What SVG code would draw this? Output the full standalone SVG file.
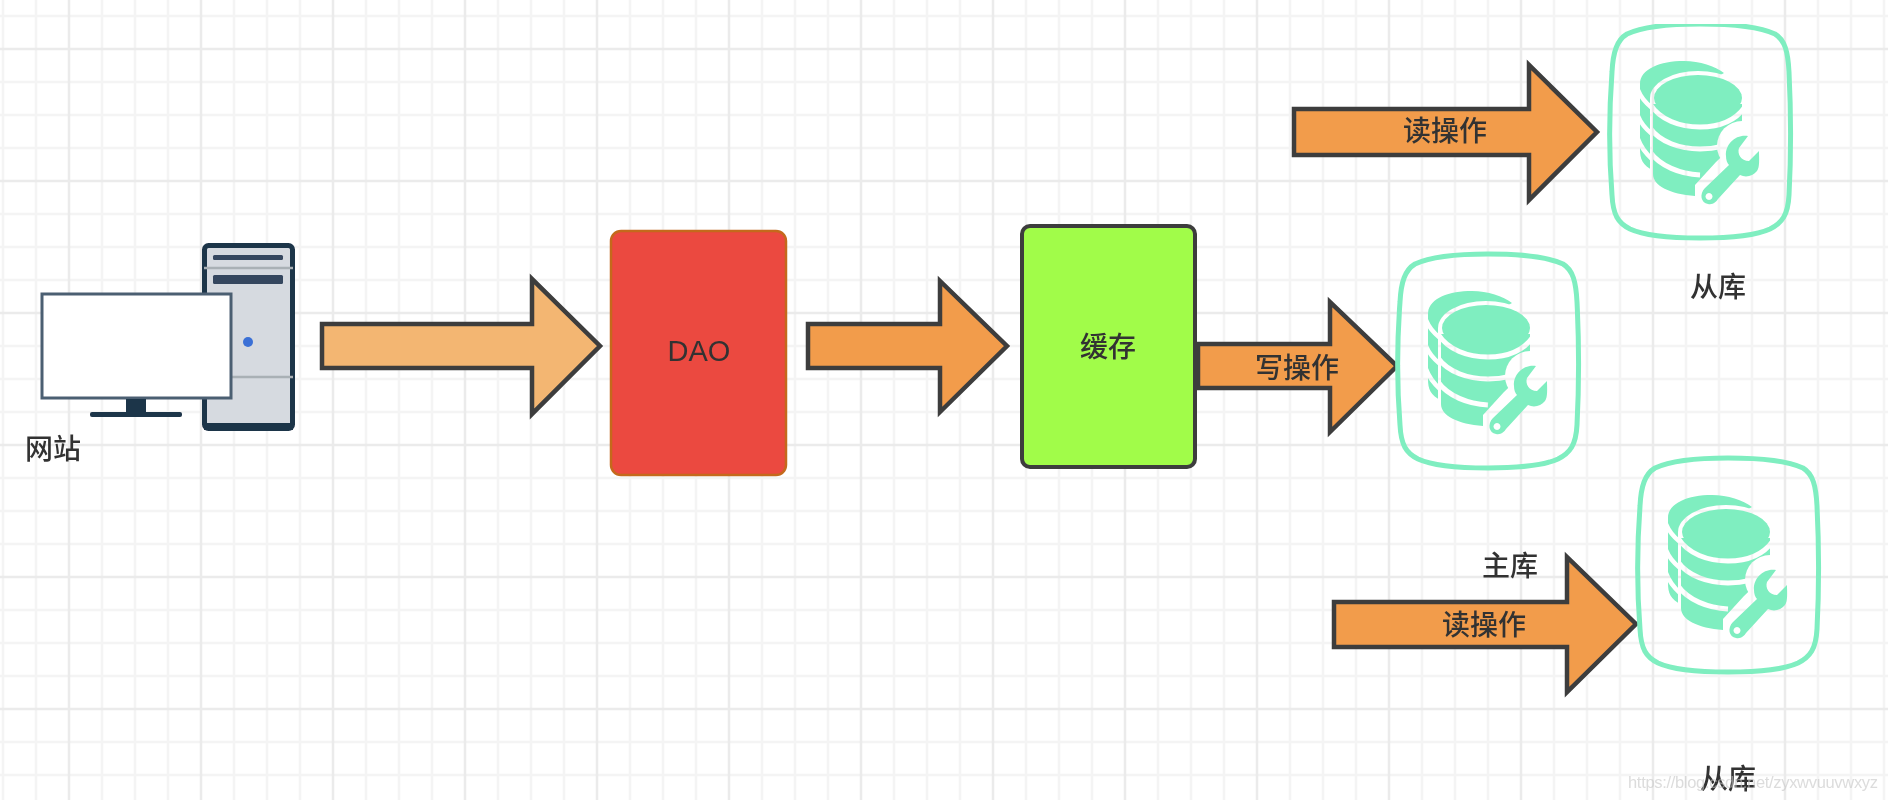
<svg xmlns="http://www.w3.org/2000/svg" xmlns:xlink="http://www.w3.org/1999/xlink" width="1888" height="800" viewBox="0 0 1888 800">
<style>
.t{font-family:"Noto Sans CJK SC","Noto Sans",sans-serif;font-size:28px;font-weight:500;fill:#333;text-anchor:middle;dominant-baseline:central}
.d{font-family:"Liberation Sans",Arial,sans-serif;font-size:29px;fill:#333;text-anchor:middle;dominant-baseline:central}
.ar{stroke:#3d3d3d;stroke-width:4.5;stroke-linejoin:miter;fill:#f29c4b}
.mint{fill:#7feec0}
</style>
<defs>
<filter id="soft" x="0" y="0" width="1" height="1"><feGaussianBlur stdDeviation="0.55"/></filter>
<pattern id="grid" patternUnits="userSpaceOnUse" x="-7" y="6" width="132" height="132">
<path d="M10 0V132M43 0V132M109 0V132M0 10H132M0 76H132M0 109H132" stroke="#f4f4f4" stroke-width="2.5" fill="none"/>
<path d="M76 0V132M0 43H132" stroke="#ebebeb" stroke-width="2.5" fill="none"/>
</pattern>
<mask id="back" maskUnits="userSpaceOnUse" x="0" y="0" width="180" height="215">
<rect width="180" height="215" fill="#fff"/>
<ellipse cx="88" cy="76" rx="48" ry="27" fill="#000"/>
<rect x="40" y="76" width="100" height="100" fill="#000"/>
<path d="M28 68Q32 78 42 86M28 94Q32 104 42 112M28 117Q32 128 42 137" stroke="#000" stroke-width="4.5" fill="none"/>
</mask>
<mask id="front" maskUnits="userSpaceOnUse" x="0" y="0" width="180" height="215">
<rect width="180" height="215" fill="#fff"/>
<path d="M40 82C50 98 70 105 90 105C110 105 125 99 135 85M40 106C50 120 70 127 90 127C105 127 118 124 128 117M40 130C50 144 70 152 90 153" stroke="#000" stroke-width="5" fill="none"/>
<circle cx="132" cy="124" r="25" fill="#000"/>
</mask>
<g id="db">
<path d="M90 2C120 2 150 5 165 12C175 18 178 30 179 50C181 90 181 135 179 173C178 193 172 201 160 207C145 214 120 216 90 216C60 216 35 214 20 207C8 201 3 193 2 173C-1 135 -1 90 2 50C3 30 7 18 17 12C32 5 60 2 90 2Z" fill="none" stroke="#7feec0" stroke-width="5"/>
<path class="mint" mask="url(#back)" d="M30 62C30 47 50 39 74 39C90 39 105 44 114 51L60 82L44 149C32 143 30 137 30 127Z"/>
<ellipse class="mint" cx="88" cy="76" rx="44" ry="23"/>
<path class="mint" mask="url(#front)" d="M43 82L43 152C43 164 60 172 85 174L85 163L106 140L132 115L132 82Z"/>
<path class="mint" fill-rule="evenodd" transform="translate(0 2)" d="M138 112C126 110 115 120 116 132C116 136 117 139 119 141L95 164C89 170 91 179 98 180C103 181 106 178 108 175L130 151C136 154 143 152 147 147C150 143 149 134 149 127L139 137C131 137 127 130 129 124ZM99 169a3.500 3.500 0 1 0 .01 0Z"/>
</g>
</defs>
<rect width="1888" height="800" fill="#fff"/>
<rect id="background-grid" width="1888" height="800" fill="url(#grid)"/>

<g filter="url(#soft)">
<g id="node-website">
<rect x="204.500" y="245.500" width="88" height="183" rx="4" fill="#d6dae0" stroke="#1f3448" stroke-width="5"/>
<rect x="204" y="423" width="89" height="7" fill="#1f3448"/>
<path d="M204 268H293M204 377H293" stroke="#a9b0b5" stroke-width="2.500"/>
<rect x="213" y="255" width="70" height="5" rx="1.500" fill="#35465f"/>
<rect x="213" y="275" width="70" height="9" rx="1.500" fill="#35465f"/>
<circle cx="248" cy="342" r="5" fill="#3a70d6"/>
<rect x="42" y="294" width="189" height="104" fill="#fff" stroke="#4c5e72" stroke-width="3"/>
<rect x="126" y="399" width="20" height="14" fill="#1f3448"/>
<rect x="90" y="412" width="92" height="5" rx="2" fill="#1f3448"/>
<text class="t" x="53" y="447">网站</text>
</g>

<g id="node-dao">
<rect x="611" y="231" width="175" height="244" rx="10" fill="#eb483f" stroke="#c4691f" stroke-width="2.500"/>
<text class="d" x="699" y="351">DAO</text>
</g>

<g id="node-cache">
<rect x="1022" y="226" width="173" height="241" rx="8" fill="#a1fc4a" stroke="#3d3d3d" stroke-width="4"/>
<text class="t" x="1108" y="345">缓存</text>
</g>

<g id="connectors">
<path class="ar" style="fill:#f3b672" d="M322 324H532V279L600 346L532 414V368H322Z"/>
<path class="ar" d="M808 324H940V281L1007 346L940 412V368H808Z"/>
<path class="ar" d="M1198 344H1330V302L1397 366L1330 432V388H1198Z"/>
<path class="ar" d="M1294 109H1529V65L1597 132L1529 200V155H1294Z"/>
<path class="ar" d="M1334 602H1567V557L1636 624L1567 692V647H1334Z"/>
<text class="t" x="1297" y="366">写操作</text>
<text class="t" x="1445" y="129">读操作</text>
<text class="t" x="1484" y="623">读操作</text>
</g>

<g id="node-slave-top">
<use xlink:href="#db" x="1610" y="22"/>
<text class="t" x="1718" y="285">从库</text>
</g>
<g id="node-master">
<use xlink:href="#db" x="1398" y="252"/>
<text class="t" x="1510" y="564">主库</text>
</g>
<g id="node-slave-bottom">
<use xlink:href="#db" x="1638" y="456"/>
<text class="t" x="1728" y="777">从库</text>
</g>
<text x="1628" y="788" font-family="'Liberation Sans',sans-serif" font-size="16.500" fill="#c4c4c4" fill-opacity=".6" textLength="250">https://blog.csdn.net/zyxwvuuvwxyz</text>
</g>
</svg>
